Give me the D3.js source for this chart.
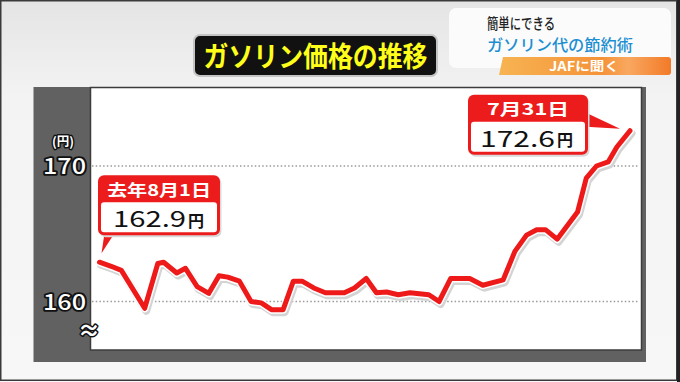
<!DOCTYPE html>
<html><head><meta charset="utf-8">
<script src="https://cdn.jsdelivr.net/npm/d3@7"></script>
<style>body{margin:0;background:#fff}svg{display:block}</style>
</head><body><svg id="c" width="680" height="382"></svg>
<script>
// ---- data ----
const dates = ["2022-08-01","2022-08-09","2022-08-16","2022-09-01","2022-09-10","2022-09-14","2022-09-23","2022-09-29",
"2022-10-07","2022-10-15","2022-10-22","2022-10-28","2022-11-05","2022-11-13","2022-11-20","2022-11-27",
"2022-12-05","2022-12-12","2022-12-18","2022-12-26","2023-01-03","2023-01-16","2023-01-23","2023-01-31",
"2023-02-07","2023-02-14","2023-02-22","2023-03-02","2023-03-15","2023-03-22","2023-03-30","2023-04-12",
"2023-04-21","2023-05-05","2023-05-13","2023-05-21","2023-05-28","2023-06-03","2023-06-11","2023-06-25",
"2023-07-01","2023-07-08","2023-07-16","2023-07-22","2023-07-31"];
const prices = [162.9,162.6,162.3,159.5,162.8,162.9,162.1,162.45,
161.1,160.6,161.9,161.8,161.5,160.0,159.9,159.4,
159.4,161.5,161.5,161.0,160.65,160.65,161.0,161.7,
160.65,160.7,160.5,160.65,160.5,160.0,161.7,161.7,
161.2,161.6,163.7,164.9,165.3,165.3,164.6,166.6,
169.1,170.0,170.3,171.4,172.6];
const yTicks = [160, 170];
const unitLabel = "(円)";
const titleText = "ガソリン価格の推移";
const startLabel = ["去年8月1日", "162.9"];
const endLabel = ["7月31日", "172.6"];
const yen = "円";
const corner = ["簡単にできる", "ガソリン代の節約術", "JAFに聞く"];

const FONT = "'Noto Sans CJK JP','Noto Sans',sans-serif";
const svg = d3.select("#c").style("font-family", FONT);
const parse = d3.timeParse("%Y-%m-%d");
const data = dates.map((d, i) => ({ date: parse(d), value: prices[i] }));

const defs = svg.append("defs");
const bg = defs.append("linearGradient").attr("id", "bg").attr("x1", 0).attr("y1", 0).attr("x2", 0).attr("y2", 1);
bg.append("stop").attr("offset", "0").attr("stop-color", "#e4e4e4");
bg.append("stop").attr("offset", "0.25").attr("stop-color", "#f3f3f3");
bg.append("stop").attr("offset", "1").attr("stop-color", "#f7f7f7");
const og = defs.append("linearGradient").attr("id", "og").attr("x1", 0).attr("y1", 0).attr("x2", 1).attr("y2", 0);
og.append("stop").attr("offset", "0").attr("stop-color", "#f7b452");
og.append("stop").attr("offset", "0.6").attr("stop-color", "#f59238");
og.append("stop").attr("offset", "0.75").attr("stop-color", "#f9a860");
og.append("stop").attr("offset", "1").attr("stop-color", "#f27a28");

// background + frame
svg.append("rect").attr("width", 680).attr("height", 382).attr("fill", "url(#bg)");
svg.append("rect").attr("x", 0.75).attr("y", 0.75).attr("width", 676).attr("height", 379.5)
  .attr("fill", "none").attr("stroke", "#3a3a3a").attr("stroke-width", 1.5);
svg.append("rect").attr("x", 677).attr("y", 0).attr("width", 3).attr("height", 382).attr("fill", "#222");

// title
svg.append("rect").attr("x", 194).attr("y", 35).attr("width", 243).attr("height", 41).attr("rx", 6)
  .attr("fill", "#111").attr("stroke", "#c4c4c4").attr("stroke-width", 2);
svg.append("text").attr("x", 315.5).attr("y", 67).attr("text-anchor", "middle")
  .attr("font-size", 28).attr("font-weight", 700).attr("fill", "#ffff1a")
  .attr("textLength", 224).attr("lengthAdjust", "spacingAndGlyphs").text(titleText);

// corner box
svg.append("rect").attr("x", 449).attr("y", 8).attr("width", 222).attr("height", 60).attr("rx", 7)
  .attr("fill", "#fbfbfb");
svg.append("text").attr("x", 487).attr("y", 28.5).attr("font-size", 15).attr("font-weight", 500).attr("fill", "#222")
  .attr("textLength", 68).attr("lengthAdjust", "spacingAndGlyphs").text(corner[0]);
svg.append("text").attr("x", 487).attr("y", 50.5).attr("font-size", 15.5).attr("font-weight", 500).attr("fill", "#1c8fd2")
  .attr("textLength", 146).attr("lengthAdjust", "spacingAndGlyphs").text(corner[1]);
svg.append("path").attr("d", "M503,57 L668,57 Q671,57 671,60 L671,72 Q671,75 668,75 L499,75 Z").attr("fill", "url(#og)");
svg.append("text").attr("x", 584).attr("y", 71).attr("text-anchor", "middle").attr("font-size", 12.5)
  .attr("font-weight", 700).attr("fill", "#fff").attr("textLength", 70).attr("lengthAdjust", "spacingAndGlyphs").text(corner[2]);

// chart panel
const panel = { x: 33.5, y: 87, w: 612.5, h: 275 };
const plot = { x: 90.5, y: 87.5, w: 551, h: 262.5 };
svg.append("rect").attr("x", panel.x).attr("y", panel.y).attr("width", panel.w).attr("height", panel.h).attr("fill", "#616161");
svg.append("rect").attr("x", plot.x).attr("y", plot.y).attr("width", plot.w).attr("height", plot.h)
  .attr("fill", "#fff").attr("stroke", "#3c3c3c").attr("stroke-width", 1.5);

// scales
const x = d3.scaleTime().domain(d3.extent(data, d => d.date)).range([99.5, 630]);
const y = d3.scaleLinear().domain([160, 170]).range([301.5, 166]);

// gridlines
svg.append("g").selectAll("line").data(yTicks).join("line")
  .attr("x1", 92).attr("x2", 639).attr("y1", d => y(d)).attr("y2", d => y(d))
  .attr("stroke", "#9a9a9a").attr("stroke-width", 1.3).attr("stroke-dasharray", "1.5,2.2");

// y axis labels
const axis = d3.axisLeft(y).tickValues(yTicks).tickSize(0).tickPadding(0).tickFormat(d3.format("d"));
const ag = svg.append("g").attr("transform", "translate(86,0)").call(axis);
ag.select(".domain").remove();
ag.selectAll("text").attr("font-family", FONT).attr("font-size", 22).attr("font-weight", 500)
  .attr("fill", "#fff").attr("stroke", "#111").attr("stroke-width", 3.5).attr("paint-order", "stroke")
  .attr("stroke-linejoin", "round").attr("textLength", 43).attr("lengthAdjust", "spacingAndGlyphs")
  .attr("dy", "0.35em");
svg.append("text").attr("x", 63).attr("y", 146).attr("text-anchor", "middle").attr("font-size", 12.5)
  .attr("font-weight", 700).attr("fill", "#fff").attr("stroke", "#111").attr("stroke-width", 3)
  .attr("paint-order", "stroke").attr("stroke-linejoin", "round").text(unitLabel);
svg.append("text").attr("x", 89).attr("y", 338).attr("text-anchor", "middle").attr("font-size", 22)
  .attr("font-weight", 700).attr("fill", "#fff").attr("stroke", "#111").attr("stroke-width", 3)
  .attr("paint-order", "stroke").attr("stroke-linejoin", "round").text("≈");

// line
const line = d3.line().x(d => x(d.date)).y(d => y(d.value)).curve(d3.curveLinear);
svg.append("path").datum(data).attr("d", line).attr("fill", "none").attr("stroke", "#d4d4d4")
  .attr("stroke-width", 8).attr("stroke-linejoin", "round").attr("stroke-linecap", "round")
  .attr("transform", "translate(1.5,2.5)");
svg.append("path").datum(data).attr("d", line).attr("fill", "none").attr("stroke", "#fff")
  .attr("stroke-width", 8).attr("stroke-linejoin", "round").attr("stroke-linecap", "round");
svg.append("path").datum(data).attr("d", line).attr("fill", "none").attr("stroke", "#ee1a1a")
  .attr("stroke-width", 5).attr("stroke-linejoin", "round").attr("stroke-linecap", "round");

// callouts
function callout(bx, by, w, pointer) {
  const g = svg.append("g");
  g.append("path").attr("d", pointer).attr("fill", "#ec1c1c");
  g.append("rect").attr("x", bx + 1.5).attr("y", by + 2).attr("width", w).attr("height", 60).attr("rx", 6)
    .attr("fill", "#d9d9d9");
  g.append("rect").attr("x", bx).attr("y", by).attr("width", w).attr("height", 60).attr("rx", 6).attr("fill", "#ec1c1c");
  g.append("rect").attr("x", bx + 3).attr("y", by + 27).attr("width", w - 6).attr("height", 30).attr("rx", 3).attr("fill", "#fff");
  return g;
}
function labelTexts(g, bx, by, w, lab, headLen, numLen, numDx) {
  g.append("text").attr("x", bx + w / 2).attr("y", by + 20.5).attr("text-anchor", "middle")
    .attr("font-size", 16).attr("font-weight", 700).attr("fill", "#fff")
    .attr("textLength", headLen).attr("lengthAdjust", "spacingAndGlyphs").text(lab[0]);
  g.append("text").attr("x", bx + numDx).attr("y", by + 52).attr("font-size", 22.5).attr("fill", "#111")
    .attr("textLength", numLen).attr("lengthAdjust", "spacingAndGlyphs").text(lab[1]);
  g.append("text").attr("x", bx + numDx + numLen + 2).attr("y", by + 51.5).attr("font-size", 16).attr("font-weight", 700)
    .attr("fill", "#111").text(yen);
}
const p0 = data[0], pN = data[data.length - 1];
const x0 = x(p0.date), y0 = y(p0.value), xN = x(pN.date), yN = y(pN.value);

// start callout
const b1x = x0 - 1.5, b1y = y0 - 87, w1 = 122;
const g1 = callout(b1x, b1y, w1,
  `M${x0 + 5},${b1y + 58} L${x0 + 2},${y0 - 9} L${x0 + 15},${b1y + 58} Z`);
labelTexts(g1, b1x, b1y, w1, startLabel, 104, 73, 15);

// end callout
const w2 = 120, b2x = xN - 162, b2y = yN - 36;
const g2 = callout(b2x, b2y, w2,
  `M${b2x + w2 - 2},${b2y + 18} L${xN - 10},${yN - 2} L${b2x + w2 - 2},${b2y + 32} Z`);
labelTexts(g2, b2x, b2y, w2, endLabel, 82, 75, 12);
</script></body></html>
